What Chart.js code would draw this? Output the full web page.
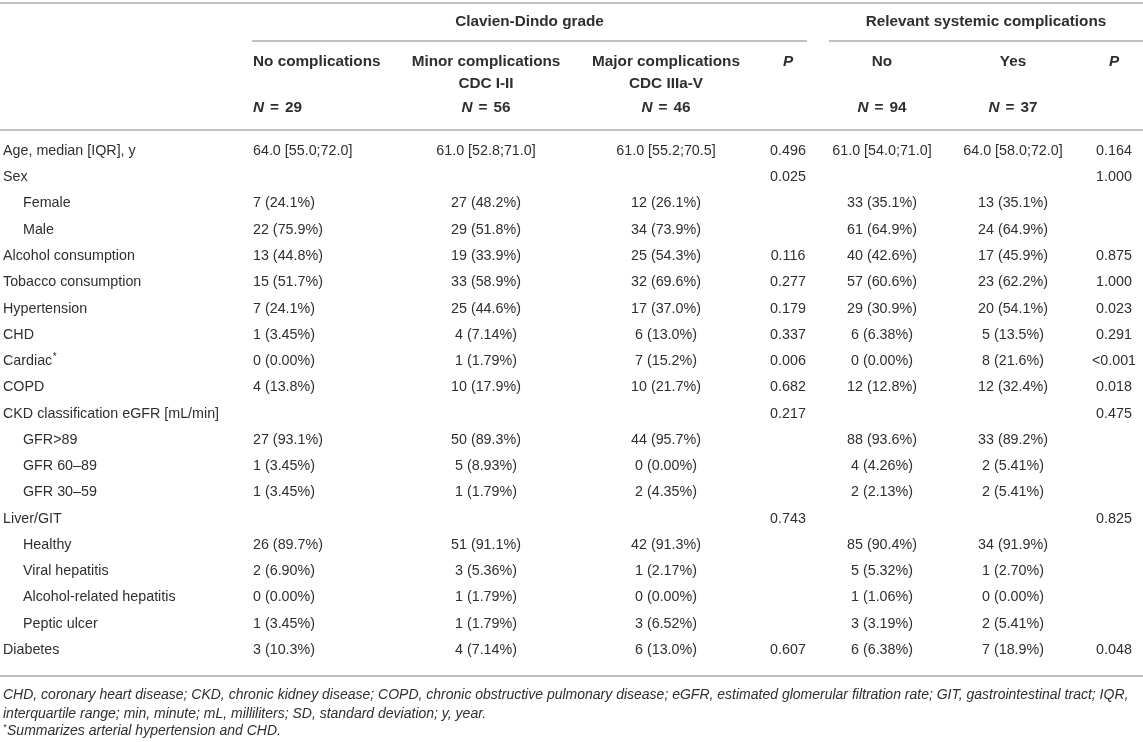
<!DOCTYPE html>
<html>
<head>
<meta charset="utf-8">
<script src="https://cdn.jsdelivr.net/npm/chart.js@4/dist/chart.umd.min.js"></script>
<style>
  html, body { margin: 0; padding: 0; background: #fff; }
  #wrap { width: 1143px; height: 742px; }
</style>
</head>
<body>
<div id="wrap"><canvas id="table-chart" width="1143" height="742"></canvas></div>
<script>
// table data
var rowLabels = ["Age, median [IQR], y", "Sex", "Female", "Male", "Alcohol consumption",
  "Tobacco consumption", "Hypertension", "CHD", "Cardiac*", "COPD",
  "CKD classification eGFR [mL/min]", "GFR>89", "GFR 60–89", "GFR 30–59", "Liver/GIT",
  "Healthy", "Viral hepatitis", "Alcohol-related hepatitis", "Peptic ulcer", "Diabetes"];
var subRows = ["Female", "Male", "GFR>89", "GFR 60–89", "GFR 30–59",
  "Healthy", "Viral hepatitis", "Alcohol-related hepatitis", "Peptic ulcer"];

var noComp = ["64.0 [55.0;72.0]", "", "7 (24.1%)", "22 (75.9%)", "13 (44.8%)", "15 (51.7%)",
  "7 (24.1%)", "1 (3.45%)", "0 (0.00%)", "4 (13.8%)", "", "27 (93.1%)", "1 (3.45%)",
  "1 (3.45%)", "", "26 (89.7%)", "2 (6.90%)", "0 (0.00%)", "1 (3.45%)", "3 (10.3%)"];
var minorComp = ["61.0 [52.8;71.0]", "", "27 (48.2%)", "29 (51.8%)", "19 (33.9%)", "33 (58.9%)",
  "25 (44.6%)", "4 (7.14%)", "1 (1.79%)", "10 (17.9%)", "", "50 (89.3%)", "5 (8.93%)",
  "1 (1.79%)", "", "51 (91.1%)", "3 (5.36%)", "1 (1.79%)", "1 (1.79%)", "4 (7.14%)"];
var majorComp = ["61.0 [55.2;70.5]", "", "12 (26.1%)", "34 (73.9%)", "25 (54.3%)", "32 (69.6%)",
  "17 (37.0%)", "6 (13.0%)", "7 (15.2%)", "10 (21.7%)", "", "44 (95.7%)", "0 (0.00%)",
  "2 (4.35%)", "", "42 (91.3%)", "1 (2.17%)", "0 (0.00%)", "3 (6.52%)", "6 (13.0%)"];
var pGrade = ["0.496", "0.025", "", "", "0.116", "0.277", "0.179", "0.337", "0.006", "0.682",
  "0.217", "", "", "", "0.743", "", "", "", "", "0.607"];
var sysNo = ["61.0 [54.0;71.0]", "", "33 (35.1%)", "61 (64.9%)", "40 (42.6%)", "57 (60.6%)",
  "29 (30.9%)", "6 (6.38%)", "0 (0.00%)", "12 (12.8%)", "", "88 (93.6%)", "4 (4.26%)",
  "2 (2.13%)", "", "85 (90.4%)", "5 (5.32%)", "1 (1.06%)", "3 (3.19%)", "6 (6.38%)"];
var sysYes = ["64.0 [58.0;72.0]", "", "13 (35.1%)", "24 (64.9%)", "17 (45.9%)", "23 (62.2%)",
  "20 (54.1%)", "5 (13.5%)", "8 (21.6%)", "12 (32.4%)", "", "33 (89.2%)", "2 (5.41%)",
  "2 (5.41%)", "", "34 (91.9%)", "1 (2.70%)", "0 (0.00%)", "2 (5.41%)", "7 (18.9%)"];
var pSys = ["0.164", "1.000", "", "", "0.875", "1.000", "0.023", "0.291", "<0.001", "0.018",
  "0.475", "", "", "", "0.825", "", "", "", "", "0.048"];

var groupHeaders = ["Clavien-Dindo grade", "Relevant systemic complications"];
var colHeaders = [["No complications"], ["Minor complications", "CDC I-II"],
  ["Major complications", "CDC IIIa-V"], ["P"], ["No"], ["Yes"], ["P"]];
var nCounts = [29, 56, 46, null, 94, 37, null];
var footnotes = [
  "CHD, coronary heart disease; CKD, chronic kidney disease; COPD, chronic obstructive pulmonary disease; eGFR, estimated glomerular filtration rate; GIT, gastrointestinal tract; IQR,",
  "interquartile range; min, minute; mL, milliliters; SD, standard deviation; y, year.",
  "*Summarizes arterial hypertension and CHD."
];

var columns = [noComp, minorComp, majorComp, pGrade, sysNo, sysYes, pSys];

// layout (pixels)
var FONT = '"Liberation Sans", Arial, Helvetica, sans-serif';
var TEXT = "#2f2f2f";
var RULE = "#ababab";
var BODY = 14.3, HEAD = 15.3, FOOT = 14;
var labelX = 3, indentX = 23;
var colPos = [
  { x: 253, align: "left" },
  { x: 486, align: "center" },
  { x: 666, align: "center" },
  { x: 788, align: "center" },
  { x: 882, align: "center" },
  { x: 1013, align: "center" },
  { x: 1114, align: "center" }
];
var groupSpans = [[252, 807], [829, 1143]];
var Y = { top: 3, group: 22, groupRule: 41, head1: 62, head2: 84, nRow: 108, headRule: 130,
  bottomRule: 676, foot: [695, 714, 731] };

function hline(ctx, x1, x2, y) {
  ctx.beginPath();
  ctx.moveTo(x1, y);
  ctx.lineTo(x2, y);
  ctx.stroke();
}

// text with trailing superscript "*"
function textStar(ctx, s, x, y, size, style) {
  var star = s.charAt(s.length - 1) === "*";
  var body = star ? s.slice(0, -1) : s;
  ctx.font = style + size + "px " + FONT;
  ctx.fillText(body, x, y);
  if (star) {
    var w = ctx.measureText(body).width;
    ctx.font = style + Math.round(size * 0.7) + "px " + FONT;
    ctx.fillText("*", x + w + 0.5, y - 4);
  }
}

var tablePlugin = {
  id: "tableText",
  afterDatasetsDraw: function (chart) {
    var ctx = chart.ctx;
    var yScale = chart.scales.y;
    var W = chart.width;
    ctx.save();
    ctx.fillStyle = TEXT;
    ctx.strokeStyle = RULE;
    ctx.lineWidth = 1.6;
    ctx.textBaseline = "middle";

    // rules
    hline(ctx, 0, W, Y.top);
    hline(ctx, 0, W, Y.headRule);
    hline(ctx, 0, W, Y.bottomRule);
    groupSpans.forEach(function (s) { hline(ctx, s[0], s[1], Y.groupRule); });

    // group headers
    ctx.font = "bold " + HEAD + "px " + FONT;
    ctx.textAlign = "center";
    groupHeaders.forEach(function (g, i) {
      ctx.fillText(g, (groupSpans[i][0] + groupSpans[i][1]) / 2, Y.group);
    });

    // column headers
    colHeaders.forEach(function (lines, c) {
      var p = colPos[c];
      ctx.textAlign = p.align;
      lines.forEach(function (t, k) {
        ctx.font = (t === "P" ? "italic bold " : "bold ") + HEAD + "px " + FONT;
        ctx.fillText(t, p.x, k === 0 ? Y.head1 : Y.head2);
      });
      if (nCounts[c] !== null) {
        var gap = 6;
        ctx.textAlign = "left";
        ctx.font = "italic bold " + HEAD + "px " + FONT;
        var wN = ctx.measureText("N").width;
        ctx.font = "bold " + HEAD + "px " + FONT;
        var wEq = ctx.measureText("=").width;
        var wNum = ctx.measureText(String(nCounts[c])).width;
        var total = wN + gap + wEq + gap + wNum;
        var x0 = p.align === "left" ? p.x : p.x - total / 2;
        ctx.font = "italic bold " + HEAD + "px " + FONT;
        ctx.fillText("N", x0, Y.nRow);
        ctx.font = "bold " + HEAD + "px " + FONT;
        ctx.fillText("=", x0 + wN + gap, Y.nRow);
        ctx.fillText(String(nCounts[c]), x0 + wN + gap + wEq + gap, Y.nRow);
      }
    });

    // row labels
    ctx.textAlign = "left";
    rowLabels.forEach(function (lab, r) {
      var y = yScale.getPixelForValue(r);
      var x = subRows.indexOf(lab) >= 0 ? indentX : labelX;
      textStar(ctx, lab, x, y, BODY, "");
    });

    // cells, placed on the points of each dataset
    ctx.font = BODY + "px " + FONT;
    chart.data.datasets.forEach(function (ds, c) {
      var meta = chart.getDatasetMeta(c);
      ctx.textAlign = colPos[c].align;
      meta.data.forEach(function (pt, r) {
        var t = columns[c][r];
        if (t) ctx.fillText(t, colPos[c].x, pt.y);
      });
    });

    // footnotes
    ctx.textAlign = "left";
    footnotes.forEach(function (f, i) {
      if (f.charAt(0) === "*") {
        ctx.font = "italic 9px " + FONT;
        ctx.fillText("*", labelX, Y.foot[i] - 4);
        var w = ctx.measureText("*").width;
        ctx.font = "italic " + FOOT + "px " + FONT;
        ctx.fillText(f.slice(1), labelX + w + 0.5, Y.foot[i]);
      } else {
        ctx.font = "italic " + FOOT + "px " + FONT;
        ctx.fillText(f, labelX, Y.foot[i]);
      }
    });
    ctx.restore();
  }
};

var tableChart = document.getElementById("table-chart");

new Chart(tableChart, {
  type: "scatter",
  data: {
    datasets: columns.map(function (col, c) {
      return {
        label: "col" + c,
        data: rowLabels.map(function (lab, r) { return { x: c, y: r }; }),
        pointRadius: 0,
        showLine: false
      };
    })
  },
  options: {
    responsive: false,
    animation: false,
    events: [],
    layout: { padding: { top: 151, bottom: 92, left: 0, right: 0 } },
    plugins: {
      legend: { display: false },
      tooltip: { enabled: false }
    },
    scales: {
      x: { type: "linear", display: false, min: 0, max: 6 },
      y: { type: "category", labels: rowLabels, display: false, offset: false }
    }
  },
  plugins: [tablePlugin]
});
</script>
</body>
</html>
